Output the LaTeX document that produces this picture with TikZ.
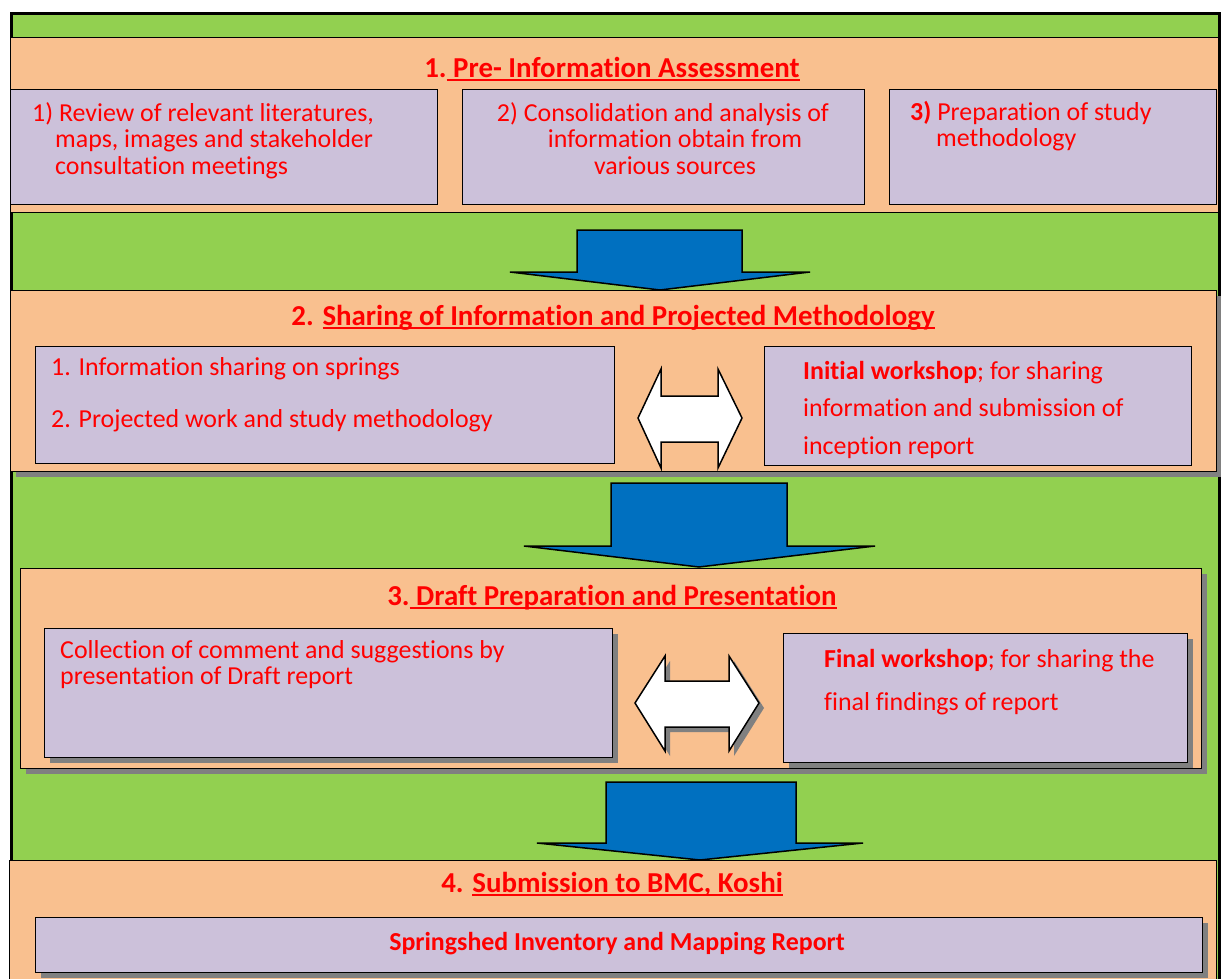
\documentclass[tikz,border=0pt]{standalone}
\usepackage{fontspec}
\setmainfont{Carlito}[Ligatures=CommonOff]
\usepackage{xcolor}
\usepackage{tikz}
\usetikzlibrary{shadows}

\definecolor{bandgreen}{HTML}{92D050}
\definecolor{bandorange}{HTML}{F9C08F}
\definecolor{cardlilac}{HTML}{CCC1DA}
\definecolor{flowblue}{HTML}{0070C0}
\definecolor{shadegray}{HTML}{808080}

% thick underline for the stage headings
\newcommand\titleline[1]{\setbox0\hbox{#1}\rlap{\rule[-3.5bp]{\wd0}{1.8bp}}\box0}

\begin{document}
\begin{tikzpicture}[
    x=1bp, y=-1bp,
    frame/.style={draw, fill=bandgreen, line width=3bp, anchor=north west, inner sep=0pt},
    band/.style={draw, fill=bandorange, line width=1.2bp, anchor=north west, inner sep=0pt},
    card/.style={draw, fill=cardlilac, line width=1.2bp, anchor=north west, inner sep=0pt},
    shade/.style={general shadow={fill=shadegray, shadow xshift=5bp, shadow yshift=-5bp}},
    heading/.style={text=red, font=\fontsize{29}{30}\selectfont\bfseries, anchor=base, inner sep=0pt},
    body/.style={text=red, font=\fontsize{26}{26.5}\selectfont, align=left, anchor=base west, inner sep=0pt},
    down/.style={draw, fill=flowblue, line width=1.5bp, line join=miter},
    swap/.style={draw, fill=white, line width=1.5bp, line join=miter}
  ]
    \useasboundingbox (0,0) rectangle (1221,979);
    \node[frame, minimum width=1208bp, minimum height=1000bp] (all) at (10,12) {};

    % stage 1
    \node[band, minimum width=1208bp, minimum height=175bp] (s1) at (10,37) {};
    \node[card, minimum width=427bp, minimum height=115bp] (a1) at (10,89) {};
    \node[card, minimum width=402bp, minimum height=115bp] (a2) at (462,89) {};
    \node[card, minimum width=327bp, minimum height=115bp] (a3) at (889,89) {};

    % stage 2
    \node[band, shade, minimum width=1206bp, minimum height=181bp] (s2) at (10,290) {};
    \node[card, minimum width=579bp, minimum height=117bp] (b1) at (35,346) {};
    \node[card, minimum width=427bp, minimum height=119bp] (b2) at (764,346) {};

    % stage 3
    \node[band, shade, minimum width=1181bp, minimum height=200bp] (s3) at (20,568) {};
    \node[card, shade, minimum width=568bp, minimum height=129bp] (c1) at (44,628) {};
    \node[card, shade, minimum width=404bp, minimum height=129bp] (c2) at (783,633) {};

    % stage 4
    \node[band, minimum width=1207bp, minimum height=140bp] (s4) at (9,860) {};
    \node[card, shade, minimum width=1167bp, minimum height=55bp] (d1) at (35,917) {};

    % flow arrows between stages
    \draw[down] (577,230) -- (742,230) -- (742,272) -- (810,272) -- (660,290)
      -- (510,272) -- (577,272) -- cycle;
    \draw[down] (611,483) -- (787,483) -- (787,546) -- (875,546) -- (699,567)
      -- (524,546) -- (611,546) -- cycle;
    \draw[down] (606,782) -- (796,782) -- (796,843) -- (863,843) -- (700,860)
      -- (537,843) -- (606,843) -- cycle;

    % two-way arrows
    \draw[swap] (638,418) -- (661,369) -- (661,396) -- (718,396) -- (718,369)
      -- (742,418) -- (718,468) -- (718,442) -- (661,442) -- (661,468) -- cycle;
    \draw[swap, shade] (635,703) -- (665,656) -- (665,681) -- (729,681) -- (729,656)
      -- (759,703) -- (729,751) -- (729,727) -- (665,727) -- (665,751) -- cycle;

    % headings
    \node[heading] (h1) at (612,77) {1.\titleline{ Pre- Information Assessment}};
    \node[heading] (h2) at (613,325) {2. \titleline{Sharing of Information and Projected Methodology}};
    \node[heading] (h3) at (612,605) {3.\titleline{ Draft Preparation and Presentation}};
    \node[heading] (h4) at (612,892) {4. \titleline{Submission to BMC, Koshi}};

    % box texts (placed by the baseline of their last line)
    \node[body] (a1t) at (32,174) {1) Review of relevant literatures,\\\hspace*{23bp}maps, images and stakeholder\\\hspace*{23bp}consultation meetings};
    \node[body, anchor=base, align=center] (a2t) at (663,174) {2) Consolidation and analysis of\\\hspace*{24bp}information obtain from\\\hspace*{24bp}various sources};
    \node[body] (a3t) at (910,146.5) {\textbf{3)} Preparation of study\\\hspace*{26bp}methodology};
    \node[body] (b1t) at (51,427.5) {1. Information sharing on springs\\[26bp]2. Projected work and study methodology};
    \node[body] (b2t) at (803,454) {\textbf{Initial workshop}; for sharing\\[11bp]information and submission of\\[11bp]inception report};
    \node[body] (c1t) at (60,684.5) {Collection of comment and suggestions by\\presentation of Draft report};
    \node[body] (c2t) at (824,710.5) {\textbf{Final workshop}; for sharing the\\[17bp]final findings of report};
    \node[body, anchor=base, font=\fontsize{26}{26.5}\selectfont\bfseries] (d1t) at (617,950) {Springshed Inventory and Mapping Report};
  \end{tikzpicture}
\end{document}
